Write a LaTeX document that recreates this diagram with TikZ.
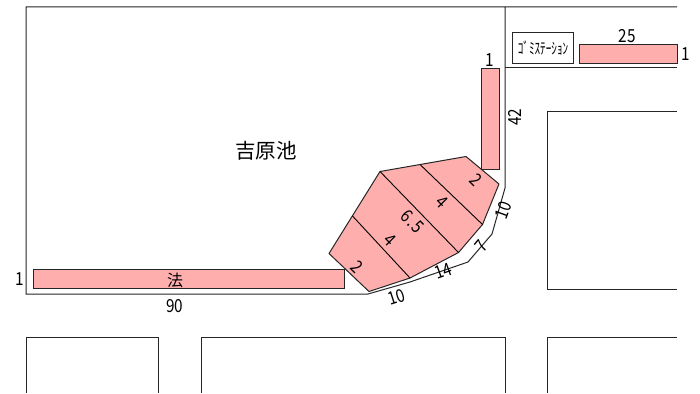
\documentclass[tikz,border=0pt]{standalone}
\usepackage{fontspec}
\setmainfont{Noto Sans CJK JP}
\newfontfamily\narf[FakeStretch=0.85]{Noto Sans CJK JP}
\newfontfamily\gomif[FakeStretch=0.7]{Noto Sans CJK JP}
\tikzset{
  wall/.style={draw=black!85,line width=1pt},
  pink/.style={draw=black!85,fill=pinkfill,line width=1pt},
  dim/.style={inner sep=0pt,font=\narf\fontsize{18}{18}\selectfont,text=black},
  lab/.style={inner sep=0pt,font=\fontsize{20.5}{20.5}\selectfont,text=black},
}
\definecolor{pinkfill}{RGB}{255,174,174}
\begin{document}
\begin{tikzpicture}[x=1pt,y=-1pt]
\useasboundingbox (0,0) rectangle (700,393);
\fill[white] (0,0) rectangle (700,393);
% pond and roads
\coordinate (a1) at (26,7);
\coordinate (a2) at (26,294);
\coordinate (a3) at (368,294);
\coordinate (a4) at (410,282);
\coordinate (a5) at (468,262);
\coordinate (a6) at (492,234);
\coordinate (a7) at (505,188);
\coordinate (a8) at (505,7);
\coordinate (a9) at (677,7);
\coordinate (a10) at (677,68);
\coordinate (a11) at (505,68);
\draw[wall] (a9) -- (a1) -- (a2) -- (a3) -- (a4) -- (a5) -- (a6) -- (a7) -- (a8);
\draw[wall] (a10) -- (a11);
\draw[wall] (677,111) -- (547,111) -- (547,289) -- (677,289);
\draw[wall] (26,393) -- (26,337) -- (158,337) -- (158,393);
\draw[wall] (201,393) -- (201,337) -- (505,337) -- (505,393);
\draw[wall] (677,337) -- (547,337) -- (547,393);
% pink strips
\node[pink,minimum width=311pt,minimum height=19pt,inner sep=0pt,anchor=north west] (s1) at (33,269) {};
\node[pink,minimum width=18pt,minimum height=101pt,inner sep=0pt,anchor=north west] (s2) at (481,68) {};
\node[pink,minimum width=98pt,minimum height=19pt,inner sep=0pt,anchor=north west] (s3) at (579,44) {};
\node[wall,minimum width=61pt,minimum height=30.5pt,inner sep=0pt,anchor=north west,font=\gomif\fontsize{16}{16}\selectfont] (g) at (512,32.5) {ｺﾞﾐｽﾃｰｼｮﾝ};
% facility polygon
\coordinate (p1) at (380,171.5);
\coordinate (p2) at (466,156.5);
\coordinate (p3) at (499,184);
\coordinate (p4) at (482.5,224.5);
\coordinate (p5) at (458.5,252.5);
\coordinate (p6) at (410,278);
\coordinate (p7) at (369,291.5);
\coordinate (p8) at (329,253.5);
\coordinate (p9) at (352.5,216);
\coordinate (q1) at (420.5,165);
\draw[pink,line join=round] (p1) -- (p2) -- (p3) -- (p4) -- (p5) -- (p6) -- (p7) -- (p8) -- cycle;
\draw[black,line width=0.9pt] (p1) -- (p5) (q1) -- (p4) (p9) -- (p6);
% labels
\node[lab] (t0) at (266,151) {吉原池};
\node[inner sep=0pt,font=\fontsize{16}{16}\selectfont] (t1) at (175,280) {法};
\node[dim] (t2) at (174.5,306) {90};
\node[dim] (t3) at (20,279) {1};
\node[dim] (t4) at (490,60) {1};
\node[dim] (t5) at (627,36.5) {25};
\node[dim] (t6) at (686,54) {1};
\node[dim,rotate=90] (t7) at (515,117) {42};
\node[dim,rotate=-45] (t8) at (476,180) {2};
\node[dim,rotate=-45] (t9) at (442,202) {4};
\node[dim,rotate=-45] (t10) at (412.5,221.5) {6\kern1.5pt.\kern1.5pt5};
\node[dim,rotate=-45] (t11) at (390,240) {4};
\node[dim,rotate=-45] (t12) at (357,267) {2};
\node[dim,rotate=18] (t13) at (397,297) {10};
\node[dim,rotate=20] (t14) at (443,271) {14};
\node[dim,rotate=50] (t15) at (481,246) {7};
\node[dim,rotate=70] (t16) at (503,210) {10};
\end{tikzpicture}
\end{document}
